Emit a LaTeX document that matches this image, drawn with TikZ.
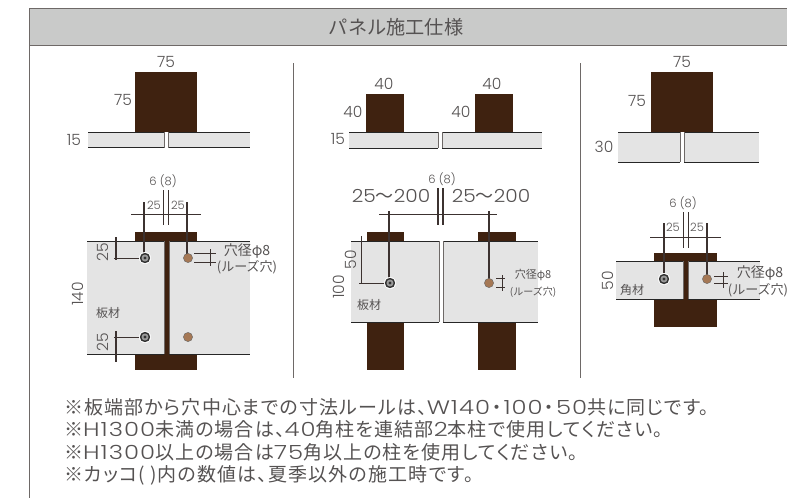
\documentclass[tikz,border=0pt]{standalone}
\usepackage{fontspec}
\setmainfont{Noto Sans CJK JP}
\newfontfamily\notef{Noto Sans CJK JP}[RawFeature=+palt,LetterSpace=6]
\newfontfamily\lat{Poppins Light}
\newfontfamily\latw{Poppins Light}[FakeStretch=1.25,LetterSpace=5]
\newfontfamily\latx{Poppins Light}[FakeStretch=1.12]
\newcommand{\nl}[1]{{\latw\fontsize{19.5}{19.5}\selectfont #1}}
\definecolor{post}{RGB}{63,34,16}
\definecolor{board}{RGB}{228,228,228}
\definecolor{head}{RGB}{201,202,201}
\definecolor{frameline}{RGB}{110,105,103}
\definecolor{ink}{RGB}{85,82,82}
\definecolor{dimline}{RGB}{60,50,48}
\definecolor{hole}{RGB}{165,120,85}
\tikzset{
  x=1pt,y=-1pt,
  lab/.style={inner sep=0pt,text=ink,anchor=center},
  numL/.style={lab,font=\lat\fontsize{15.5}{15.5}\selectfont},
  numB/.style={lab,font=\latx\fontsize{18}{18}\selectfont},
  numS/.style={lab,font=\lat\fontsize{11.5}{12}\selectfont},
  jp/.style={lab,font=\fontsize{12}{12}\selectfont},
  jpm/.style={lab,font=\fontsize{14}{14}\selectfont},
  jpn/.style={lab,font=\fontsize{13}{13}\selectfont},
  jps/.style={lab,font=\fontsize{11}{11}\selectfont},
  note/.style={inner sep=0pt,text=ink,anchor=west,font=\notef\fontsize{19}{19}\selectfont},
  dimo/.style={draw=dimline,line width=.7pt},
  dimt/.style={draw=dimline,line width=1.1pt},
  sep/.style={draw=frameline,line width=1pt},
  postbox/.style={fill=post},
  boardfill/.style={fill=board},
  edge/.style={draw=black!85,line width=.9pt},
  inner/.style={draw=frameline,line width=1pt},
}
\newcommand{\boardL}[4]{\fill[boardfill] (#1,#3) rectangle (#2,#4);
  \draw[edge] (#1,#3) -- (#2,#3); \draw[edge] (#1,#4) -- (#2,#4); \draw[inner] (#2,#3) -- (#2,#4);}
\newcommand{\boardR}[4]{\fill[boardfill] (#1,#3) rectangle (#2,#4);
  \draw[edge] (#1,#3) -- (#2,#3); \draw[edge] (#1,#4) -- (#2,#4); \draw[inner] (#1,#3) -- (#1,#4);}
\newcommand{\boltmark}[2]{\fill[white] (#1,#2) circle (6);
  \fill[black!80] (#1,#2) circle (5.2); \fill[black!40] (#1,#2) circle (3.5); \fill[black!80] (#1,#2) circle (1.7);}
\newcommand{\holemark}[2]{\fill[hole] (#1,#2) circle (4.6); \draw[black!60,line width=.4pt] (#1,#2) circle (4.6);}
\begin{document}
\begin{tikzpicture}
\useasboundingbox (0,0) rectangle (787,498);
\clip (0,0) rectangle (787,498);
\fill[head] (29,8) rectangle (787,45);
\draw[sep] (787,8) -- (29,8) -- (29,498);
\draw[sep] (29,45) -- (787,45);
\node[lab,font=\fontsize{19.2}{20}\selectfont] (title) at (396,27) {パネル施工仕様};
\draw[sep] (293,63) -- (293,378);
\draw[sep] (580,63) -- (580,378);

% ---------- panel 1 top
\fill[postbox] (135,72) rectangle (197,132);
\boardL{88}{164}{132}{147.5}
\boardR{168}{250}{132}{147.5}
\node[numL] (a1) at (166,62) {75};
\node[numL] (a2) at (123,100) {75};
\node[numL] (a3) at (74,140) {15};

% ---------- panel 1 lower
\fill[postbox] (135,232) rectangle (197,241);
\fill[postbox] (135,354) rectangle (197,370);
\boardL{87}{164}{241}{354}
\boardR{169}{250}{241}{354}
\fill[postbox] (164.5,241) rectangle (168.5,354);
\draw[dimo] (131,214) -- (201,214);
\draw[dimo] (163,190) -- (163,225);
\draw[dimo] (168,190) -- (168,225);
\draw[dimt] (144,202) -- (144,258);
\draw[dimt] (187,202) -- (187,258);
\draw[dimt] (116,237) -- (116,260);
\draw[dimt] (116,331) -- (116,362);
\draw[dimo] (114,258) -- (141,258);
\draw[dimo] (114,337) -- (141,337);
\draw[dimo] (194,253) -- (216,253);
\draw[dimo] (194,262) -- (216,262);
\draw[dimo] (210,249) -- (210,266);
\boltmark{145}{258}\boltmark{145}{337}
\holemark{188}{258}\holemark{188}{337}
\node[numS] (b1) at (163,181) {6 (8)};
\node[numS] (b2) at (154,205) {25};
\node[numS] (b3) at (178,205) {25};
\node[jpm] (b4) at (247,251) {穴径φ8};
\node[jpn] (b5) at (247,267) {(ルーズ穴)};
\node[numL,rotate=90] (b6) at (78,294) {140};
\node[jp] (b7) at (108,313) {板材};
\node[numL,rotate=90] (b8) at (103,252) {25};
\node[numL,rotate=90] (b9) at (103,342) {25};

% ---------- panel 2 top
\fill[postbox] (366,94) rectangle (404,132);
\fill[postbox] (475,94) rectangle (513,132);
\boardL{349}{438}{132}{148}
\boardR{442}{542}{132}{148}
\node[numL] (c1) at (384,84) {40};
\node[numL] (c2) at (492,84) {40};
\node[numL] (c3) at (353,112) {40};
\node[numL] (c4) at (461,112) {40};
\node[numL] (c5) at (338,139) {15};

% ---------- panel 2 lower
\fill[postbox] (367,232) rectangle (404,241);
\fill[postbox] (478,232) rectangle (516,241);
\fill[postbox] (367,322) rectangle (404,370);
\fill[postbox] (478,322) rectangle (516,370);
\boardL{351}{439}{241}{322}
\boardR{443}{538}{241}{322}
\draw[dimo] (379,214) -- (497,214);
\draw[dimt] (438,188) -- (438,225);
\draw[dimt] (443,188) -- (443,225);
\draw[dimt] (389,211) -- (389,283);
\draw[dimt] (489,211) -- (489,283);
\draw[dimo] (361,236) -- (361,284);
\draw[dimo] (359,283) -- (386,283);
\draw[dimo] (496,278) -- (505,278);
\draw[dimo] (496,287) -- (505,287);
\draw[dimo] (502,275) -- (502,291);
\boltmark{390}{283}
\holemark{489}{283}
\node[numS] (d1) at (442,179) {6 (8)};
\node[numB] (d2) at (391,196) {25{\rmfamily ～}200};
\node[numB] (d3) at (491,196) {25{\rmfamily ～}200};
\node[numL,rotate=90] (d4) at (351,260) {50};
\node[numL,rotate=90] (d5) at (339,287) {100};
\node[jp] (d6) at (369,305) {板材};
\node[jps] (d7) at (533,275) {穴径φ8};
\node[lab,font=\fontsize{10}{10}\selectfont] (d8) at (533,292) {(ルーズ穴)};

% ---------- panel 3 top
\fill[postbox] (651,72) rectangle (713,132);
\boardL{618}{680}{132}{162}
\boardR{684}{759}{132}{162}
\node[numL] (e1) at (682,62) {75};
\node[numL] (e2) at (637,101) {75};
\node[numL] (e3) at (604,147) {30};

% ---------- panel 3 lower
\fill[postbox] (654,253) rectangle (717,261);
\fill[postbox] (654,299) rectangle (717,327);
\boardL{616}{683}{261}{299}
\boardR{688}{760}{261}{299}
\fill[postbox] (683.5,261) rectangle (687.5,299);
\draw[dimo] (650,237) -- (721,237);
\draw[dimo] (683,212) -- (683,248);
\draw[dimo] (688,212) -- (688,248);
\draw[dimt] (664,223) -- (664,279);
\draw[dimt] (707,223) -- (707,279);
\draw[dimo] (714,276) -- (728,276);
\draw[dimo] (714,283) -- (728,283);
\draw[dimo] (723,272) -- (723,288);
\boltmark{664}{279}
\holemark{707}{279}
\node[numS] (f1) at (683,203) {6 (8)};
\node[numS] (f2) at (673,227) {25};
\node[numS] (f3) at (697,227) {25};
\node[numL,rotate=90] (f4) at (608,281) {50};
\node[jp] (f5) at (632,290) {角材};
\node[jpm] (f6) at (760,273) {穴径φ8};
\node[jpn] (f7) at (758,290) {(ルーズ穴)};

% ---------- notes
\node[note] (n1) at (64,407) {※板端部から穴中心までの寸法ルールは、\nl{W140}\hspace{2pt}・\hspace{2pt}\nl{100}\hspace{2pt}・\hspace{2pt}\nl{50}共に同じです。};
\node[note] (n2) at (64,429.5) {※\nl{H1300}未満の場合は、\nl{40}角柱を連結部\nl{2}本柱で使用してください。};
\node[note] (n3) at (64,452) {※\nl{H1300}以上の場合は\nl{75}角以上の柱を使用してください。};
\node[note] (n4) at (64,475) {※カッコ( )内の数値は、夏季以外の施工時です。};
\end{tikzpicture}
\end{document}
